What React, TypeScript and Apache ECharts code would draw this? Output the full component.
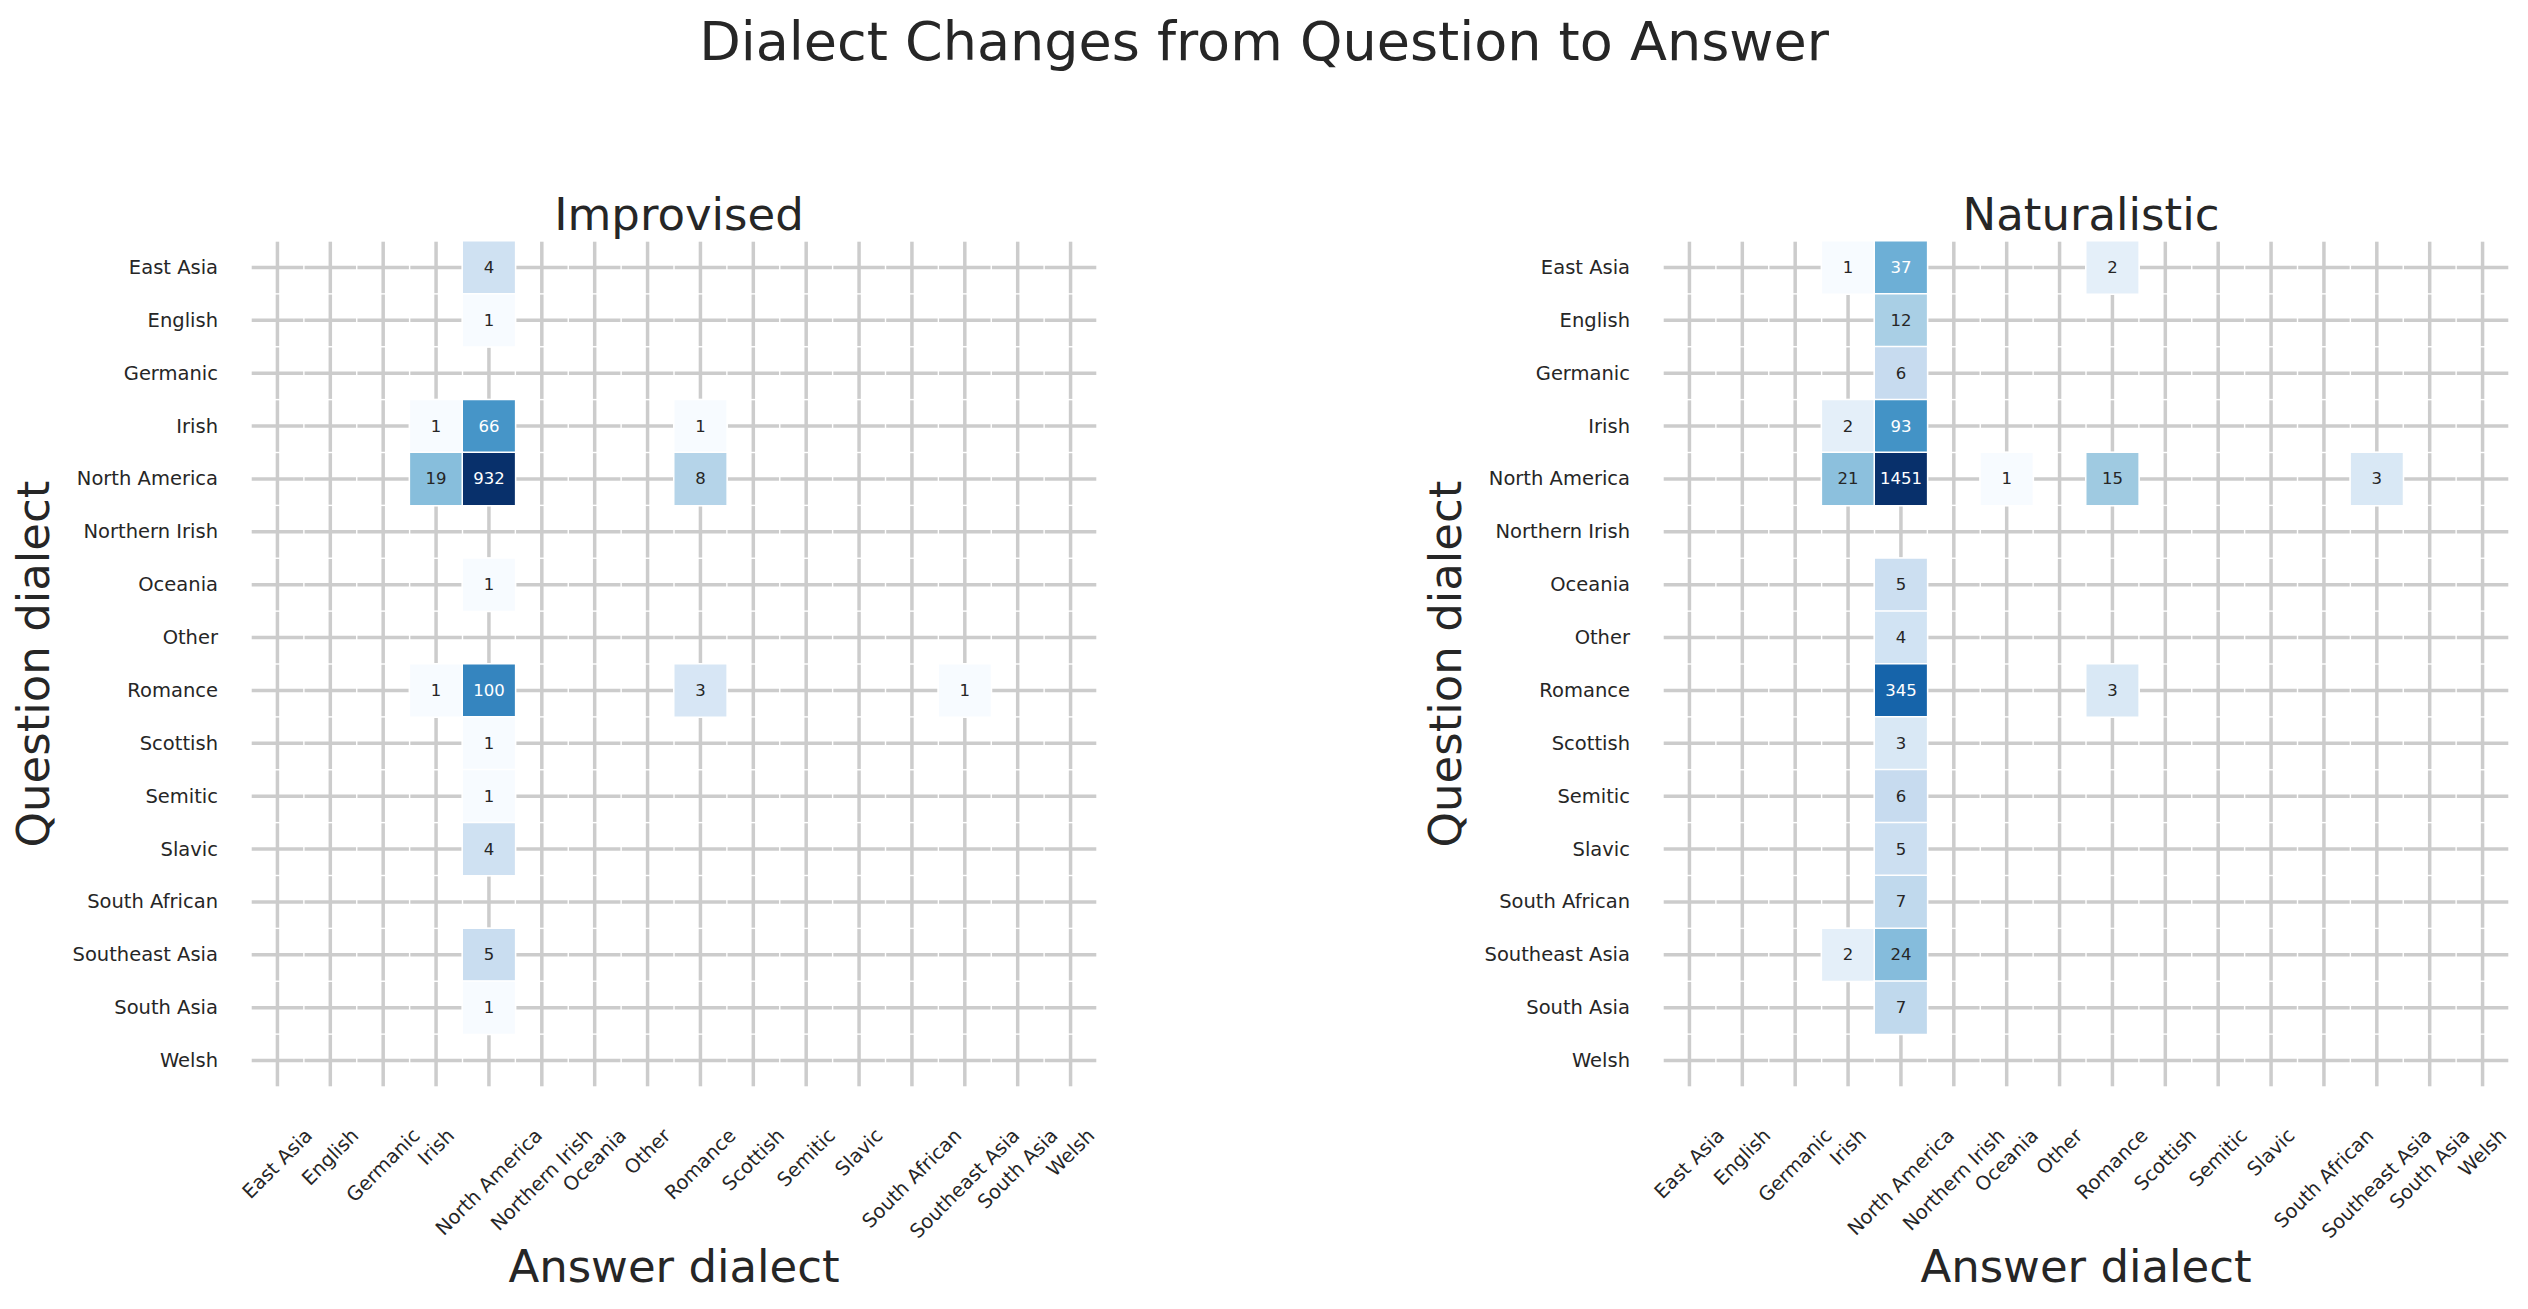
import React, { useEffect, useRef } from 'react';
import * as echarts from 'echarts';

const dialects = [
  'East Asia', 'English', 'Germanic', 'Irish', 'North America', 'Northern Irish', 'Oceania', 'Other',
  'Romance', 'Scottish', 'Semitic', 'Slavic', 'South African', 'Southeast Asia', 'South Asia', 'Welsh',
];

// Improvised panel: (question dialect, answer dialect, count)
const improvisedQuestion = [
  'East Asia', 'English', 'Irish', 'Irish', 'Irish', 'North America', 'North America', 'North America',
  'Oceania', 'Romance', 'Romance', 'Romance', 'Romance', 'Scottish', 'Semitic', 'Slavic', 'Southeast Asia', 'South Asia',
];
const improvisedAnswer = [
  'North America', 'North America', 'Irish', 'North America', 'Romance', 'Irish', 'North America', 'Romance',
  'North America', 'Irish', 'North America', 'Romance', 'Southeast Asia', 'North America', 'North America', 'North America', 'North America', 'North America',
];
const improvisedCount = [4, 1, 1, 66, 1, 19, 932, 8, 1, 1, 100, 3, 1, 1, 1, 4, 5, 1];

// Naturalistic panel
const naturalisticQuestion = [
  'East Asia', 'East Asia', 'East Asia', 'English', 'Germanic', 'Irish', 'Irish',
  'North America', 'North America', 'North America', 'North America', 'North America',
  'Oceania', 'Other', 'Romance', 'Romance', 'Scottish', 'Semitic', 'Slavic', 'South African',
  'Southeast Asia', 'Southeast Asia', 'South Asia',
];
const naturalisticAnswer = [
  'Irish', 'North America', 'Romance', 'North America', 'North America', 'Irish', 'North America',
  'Irish', 'North America', 'Oceania', 'Romance', 'Southeast Asia',
  'North America', 'North America', 'North America', 'Romance', 'North America', 'North America', 'North America', 'North America',
  'Irish', 'North America', 'North America',
];
const naturalisticCount = [1, 37, 2, 12, 6, 2, 93, 21, 1451, 1, 15, 3, 5, 4, 345, 3, 3, 6, 5, 7, 2, 24, 7];

const panelTitles = ['Improvised', 'Naturalistic'];
const mainTitle = 'Dialect Changes from Question to Answer';
const xName = 'Answer dialect';
const yName = 'Question dialect';

const BLUES = ['#f7fbff', '#deebf7', '#c6dbef', '#9ecae1', '#6baed6', '#4292c6', '#2171b5', '#08519c', '#08306b'];
const FONT = '"DejaVu Sans", "Liberation Sans", sans-serif';
const TEXT = '#262626';
const TICK_SIZE = 19.5;
const TICK_LH = 20;

const W = 2528;
const H = 1309;
const PANEL_LEFT = [251, 1663];
const PANEL_TOP = 241;
const PANEL_SIZE = 846;

function measure(text: string, size: number): number {
  const c = document.createElement('canvas');
  const ctx = c.getContext('2d');
  if (!ctx) return text.length * size * 0.6;
  ctx.font = `${size}px "DejaVu Sans"`;
  return ctx.measureText(text).width;
}

function buildOption() {
  const panels = [
    { q: improvisedQuestion, a: improvisedAnswer, c: improvisedCount },
    { q: naturalisticQuestion, a: naturalisticAnswer, c: naturalisticCount },
  ];

  const grids: any[] = [];
  const xAxes: any[] = [];
  const yAxes: any[] = [];
  const series: any[] = [];
  const visualMaps: any[] = [];
  const titles: any[] = [
    {
      text: mainTitle,
      left: 'center',
      top: 9,
      textStyle: { fontSize: 54, fontWeight: 'normal', color: TEXT, fontFamily: FONT },
    },
  ];

  panels.forEach((p, idx) => {
    const maxLog = Math.log(Math.max(...p.c));
    grids.push({
      left: PANEL_LEFT[idx],
      top: PANEL_TOP,
      width: PANEL_SIZE,
      height: PANEL_SIZE,
      containLabel: false,
      outerBoundsMode: 'none',
    });
    titles.push({
      text: panelTitles[idx],
      left: PANEL_LEFT[idx] + PANEL_SIZE / 2,
      top: 187,
      textAlign: 'center',
      textStyle: { fontSize: 45, fontWeight: 'normal', color: TEXT, fontFamily: FONT },
    });
    xAxes.push({
      type: 'category',
      gridIndex: idx,
      data: dialects.map((d) => {
        // rotated label whose bounding box is centred under its tick and top-aligned
        const w = measure(d, TICK_SIZE);
        return {
          value: d,
          textStyle: {
            align: 'center',
            verticalAlign: 'top',
            lineHeight: TICK_LH,
            padding: [w / 4, TICK_LH + w / 2, 0, 0],
            fontSize: TICK_SIZE,
            color: TEXT,
            fontFamily: FONT,
          },
        };
      }),
      axisLine: { show: false },
      axisTick: { show: false },
      splitLine: { show: false },
      splitArea: { show: false },
      axisLabel: {
        interval: 0,
        rotate: 45,
        margin: 31,
        fontSize: TICK_SIZE,
        color: TEXT,
        fontFamily: FONT,
      },
      name: xName,
      nameLocation: 'middle',
      nameGap: 157,
      nameMoveOverlap: false,
      nameTextStyle: { fontSize: 45, color: TEXT, fontFamily: FONT },
    });
    yAxes.push({
      type: 'category',
      gridIndex: idx,
      inverse: true,
      data: dialects,
      axisLine: { show: false },
      axisTick: { show: false },
      splitLine: { show: false },
      splitArea: { show: false },
      axisLabel: { interval: 0, margin: 33, fontSize: TICK_SIZE, color: TEXT, fontFamily: FONT },
      name: yName,
      nameLocation: 'middle',
      nameRotate: 90,
      nameGap: 195,
      nameMoveOverlap: false,
      nameTextStyle: { fontSize: 45, color: TEXT, fontFamily: FONT },
    });

    // grid lines at cell centres, broken by the white cell edges
    series.push({
      type: 'custom',
      coordinateSystem: 'cartesian2d',
      xAxisIndex: idx,
      yAxisIndex: idx,
      silent: true,
      z: 1,
      data: dialects.map((d) => [d, d]),
      renderItem: (params: any, api: any) => {
        const cs = params.coordSys;
        const pt = api.coord([api.value(0), api.value(1)]);
        const size = api.size([1, 1]);
        const cw = size[0];
        const ch = size[1];
        const g = 0.7;
        const n = dialects.length;
        const style = { stroke: '#cccccc', lineWidth: 3.5 };
        const children: any[] = [];
        for (let j = 0; j < n; j++) {
          const y0 = cs.y + j * ch;
          children.push({ type: 'line', shape: { x1: pt[0], y1: y0 + g, x2: pt[0], y2: y0 + ch - g }, style });
          const x0 = cs.x + j * cw;
          children.push({ type: 'line', shape: { x1: x0 + g, y1: pt[1], x2: x0 + cw - g, y2: pt[1] }, style });
        }
        return { type: 'group', children };
      },
    });

    const data = p.c.map((c, i) => {
      const lg = Math.log(c);
      const ratio = lg / maxLog;
      return {
        value: [p.a[i], p.q[i], c, lg],
        label: { color: ratio > 0.47 ? '#ffffff' : TEXT },
      };
    });
    series.push({
      type: 'heatmap',
      xAxisIndex: idx,
      yAxisIndex: idx,
      z: 2,
      data,
      itemStyle: { borderColor: '#ffffff', borderWidth: 1.5 },
      label: {
        show: true,
        fontSize: 16.5,
        fontFamily: FONT,
        formatter: (prm: any) => String(prm.value[2]),
      },
      emphasis: { disabled: true },
    });
    visualMaps.push({
      type: 'continuous',
      show: false,
      seriesIndex: series.length - 1,
      dimension: 3,
      min: 0,
      max: maxLog,
      inRange: { color: BLUES },
    });
  });

  return {
    animation: false,
    backgroundColor: '#ffffff',
    textStyle: { fontFamily: FONT },
    title: titles,
    grid: grids,
    xAxis: xAxes,
    yAxis: yAxes,
    visualMap: visualMaps,
    series,
  };
}

export default function App() {
  const ref = useRef<HTMLDivElement>(null);
  useEffect(() => {
    if (!ref.current) return;
    const chart = echarts.init(ref.current, null, { renderer: 'svg' });
    chart.setOption(buildOption() as any);
    return () => chart.dispose();
  }, []);
  return (
    <div
      ref={ref}
      style={{ position: 'fixed', left: 0, top: 0, width: W, height: H, background: '#fff' }}
    />
  );
}
